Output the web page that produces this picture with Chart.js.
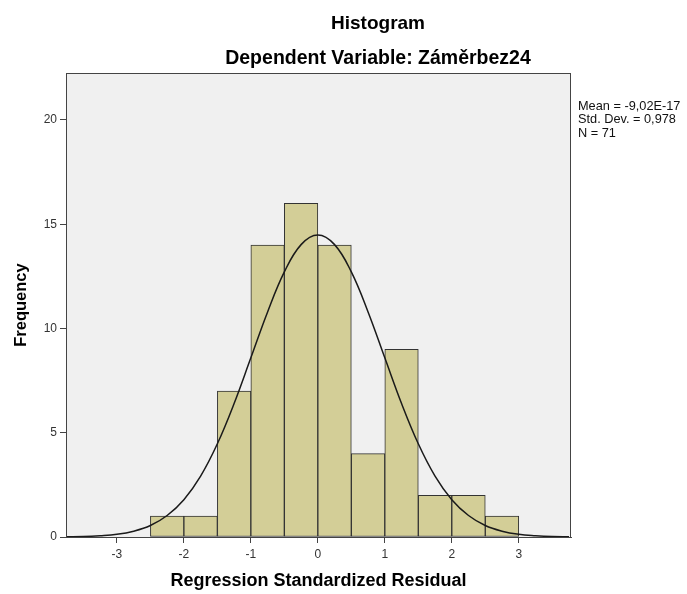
<!DOCTYPE html>
<html>
<head>
<meta charset="utf-8">
<script src="https://cdn.jsdelivr.net/npm/chart.js@4.4.1/dist/chart.umd.min.js"></script>
<style>
  html, body { margin: 0; padding: 0; background: #fff; }
  #wrap { width: 687px; height: 594px; }
</style>
</head>
<body>
<div id="wrap"><canvas id="histo" width="687" height="594"></canvas></div>
<script>
// histogram bins (centres, width 0.5) and counts
const binCenters = [-2.25, -1.75, -1.25, -0.75, -0.25, 0.25, 0.75, 1.25, 1.75, 2.25, 2.75];
const counts = [1, 1, 7, 14, 16, 14, 4, 9, 2, 2, 1];

// normal curve
const curveX = [-3.75, -3.5, -3.25, -3, -2.75, -2.5, -2.25, -2, -1.75, -1.5, -1.25, -1, -0.75, -0.5, -0.25, 0,
  0.25, 0.5, 0.75, 1, 1.25, 1.5, 1.75, 2, 2.25, 2.5, 2.75, 3, 3.25, 3.5, 3.75];
const curveY = [0.01, 0.02, 0.06, 0.13, 0.28, 0.55, 1.03, 1.79, 2.92, 4.47, 6.4, 8.59, 10.79, 12.71, 14.02, 14.48,
  14.02, 12.71, 10.79, 8.59, 6.4, 4.47, 2.92, 1.79, 1.03, 0.55, 0.28, 0.13, 0.06, 0.02, 0.01];

const statLines = ['Mean = -9,02E-17', 'Std. Dev. = 0,978', 'N = 71'];
const titleText = 'Histogram';
const subtitleText = 'Dependent Variable: Záměrbez24';

const FONT = '"Liberation Sans", Arial, sans-serif';
const LINE = '#444444';

const decorations = {
  id: 'decorations',
  beforeDraw(chart) {
    const { ctx, chartArea: a } = chart;
    ctx.save();
    ctx.fillStyle = '#f0f0f0';
    ctx.fillRect(a.left, a.top, a.right - a.left, a.bottom - a.top);
    ctx.restore();
  },
  afterDraw(chart) {
    const { ctx, chartArea: a } = chart;
    ctx.save();
    ctx.strokeStyle = LINE;
    ctx.lineWidth = 1;
    ctx.strokeRect(a.left + 0.5, a.top + 0.5, a.right - a.left - 1, a.bottom - a.top);

    ctx.fillStyle = '#000';
    ctx.textAlign = 'center';
    ctx.textBaseline = 'alphabetic';
    ctx.font = 'bold 19px ' + FONT;
    ctx.fillText(titleText, 378, 29);
    ctx.font = 'bold 19.5px ' + FONT;
    ctx.fillText(subtitleText, 378, 64);

    ctx.textAlign = 'left';
    ctx.textBaseline = 'middle';
    ctx.font = '12.75px ' + FONT;
    ctx.fillStyle = '#111';
    statLines.forEach((s, i) => ctx.fillText(s, 578, 106 + i * 13.5));
    ctx.restore();
  }
};

new Chart(document.getElementById('histo'), {
  type: 'bar',
  data: {
    datasets: [
      {
        type: 'line',
        data: curveX.map((x, i) => ({ x: x, y: curveY[i] })),
        borderColor: '#1a1a1a',
        borderWidth: 1.5,
        pointRadius: 0,
        tension: 0.4,
        fill: false,
        order: 0
      },
      {
        type: 'bar',
        data: binCenters.map((x, i) => ({ x: x, y: counts[i] })),
        backgroundColor: '#d3ce97',
        borderColor: '#333333',
        borderWidth: 1,
        borderSkipped: false,
        barPercentage: 1,
        categoryPercentage: 1,
        order: 1
      }
    ]
  },
  options: {
    responsive: false,
    animation: false,
    layout: { padding: { top: 73, right: 116, bottom: 0, left: 0 } },
    plugins: { legend: { display: false }, tooltip: { enabled: false }, title: { display: false } },
    scales: {
      x: {
        type: 'linear',
        offset: false,
        min: -3.76,
        max: 3.78,
        afterFit(scale) { scale.height = 57; },
        grid: { display: true, offset: false, drawOnChartArea: false, drawTicks: true, tickLength: 6, color: LINE },
        border: { display: true, color: LINE, width: 1 },
        ticks: { stepSize: 1, includeBounds: false, color: '#333', font: { size: 12, family: FONT }, padding: 4, maxRotation: 0 },
        title: { display: true, text: 'Regression Standardized Residual', color: '#000', font: { size: 18, weight: 'bold', family: FONT }, padding: { top: 0, bottom: 2 } }
      },
      y: {
        min: 0,
        max: 22.25,
        afterFit(scale) { scale.width = 66; },
        grid: { display: true, drawOnChartArea: false, drawTicks: true, tickLength: 6, color: LINE },
        border: { display: true, color: LINE, width: 1 },
        ticks: { stepSize: 5, includeBounds: false, color: '#333', font: { size: 12, family: FONT }, padding: 3 },
        title: { display: true, text: 'Frequency', color: '#000', font: { size: 16.5, weight: 'bold', family: FONT }, padding: { top: 12, bottom: 0 } }
      }
    }
  },
  plugins: [decorations]
});
</script>
</body>
</html>
